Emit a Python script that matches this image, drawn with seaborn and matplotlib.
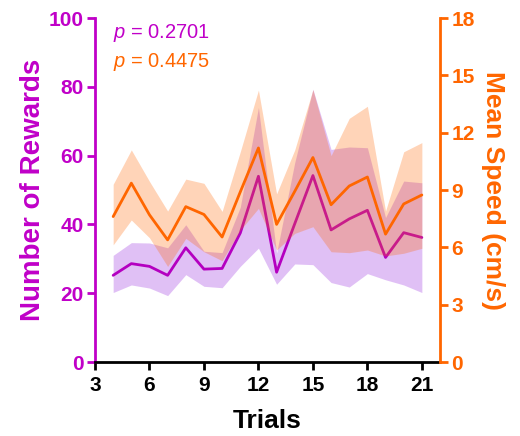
import matplotlib
matplotlib.use("Agg")
import matplotlib.pyplot as plt
import seaborn as sns
import pandas as pd

# Per-trial summaries: mean with lower/upper band edges
trials = list(range(4, 22))
rewards_mean = [25.2, 28.6, 27.8, 25.2, 33.2, 27.0, 27.2, 37.5, 54.0, 26.1,
                40.2, 54.2, 38.4, 41.6, 44.1, 30.4, 37.6, 36.2]
rewards_upper = [31.0, 34.7, 34.6, 33.2, 39.9, 32.2, 31.8, 45.0, 74.0, 31.7,
                 58.0, 79.3, 61.8, 62.5, 62.3, 42.0, 52.6, 52.1]
rewards_lower = [20.2, 22.4, 21.5, 19.3, 25.4, 22.0, 21.6, 27.8, 33.1, 22.6,
                 28.5, 28.3, 23.1, 21.8, 25.7, 23.9, 22.4, 20.2]
speed_mean = [7.61, 9.36, 7.70, 6.39, 8.13, 7.72, 6.54, 8.90, 11.20, 7.20,
              8.93, 10.70, 8.23, 9.21, 9.68, 6.69, 8.27, 8.74]
speed_upper = [9.30, 11.10, 9.45, 7.90, 9.57, 9.35, 7.88, 11.00, 14.23, 8.80,
               11.10, 14.25, 10.80, 12.75, 13.38, 7.90, 11.00, 11.48]
speed_lower = [6.13, 7.43, 6.50, 5.00, 6.47, 5.77, 5.30, 6.90, 8.04, 5.86,
               6.73, 7.08, 5.77, 5.72, 5.86, 5.55, 5.69, 5.95]

x_ticks = [3, 6, 9, 12, 15, 18, 21]
left_ticks = [0, 20, 40, 60, 80, 100]
right_ticks = [0, 3, 6, 9, 12, 15, 18]
p_rewards = "0.2701"
p_speed = "0.4475"

df = pd.DataFrame({"trial": trials, "rewards": rewards_mean, "speed": speed_mean})

sns.set_theme(style="ticks")
plt.rcParams["font.family"] = ["Liberation Sans", "DejaVu Sans"]
plt.rcParams["mathtext.fontset"] = "custom"
plt.rcParams["mathtext.it"] = "Liberation Sans:italic"
plt.rcParams["mathtext.rm"] = "Liberation Sans"

PURPLE = "#c000c8"
PURPLE_LINE = "#b400c0"
PURPLE_FILL = "#9b30e0"
ORANGE = "#ff6600"

fig = plt.figure(figsize=(5.2, 4.36), dpi=100)
ax = fig.add_axes([0.1827, 0.1697, 0.6635, 0.789])
ax2 = ax.twinx()

# rewards (band + mean) on the left axis, speed drawn over it on the right axis
ax.fill_between(trials, rewards_lower, rewards_upper, color=PURPLE_FILL,
                alpha=0.3, linewidth=0, zorder=1)
sns.lineplot(data=df, x="trial", y="rewards", ax=ax, color=PURPLE_LINE,
             linewidth=2, zorder=3)
ax2.fill_between(trials, speed_lower, speed_upper, color=ORANGE,
                 alpha=0.28, linewidth=0, zorder=1)
sns.lineplot(data=df, x="trial", y="speed", ax=ax2, color=ORANGE,
             linewidth=2, zorder=3)

ax.set_xlim(3, 22)
ax.set_ylim(0, 100)
ax2.set_ylim(0, 18)
ax.set_xticks(x_ticks)
ax.set_yticks(left_ticks)
ax2.set_yticks(right_ticks)

for a in (ax, ax2):
    a.spines["top"].set_visible(False)
    for s in a.spines.values():
        s.set_linewidth(2)
ax.spines["right"].set_visible(False)
ax.spines["left"].set_color(PURPLE)
ax.spines["bottom"].set_color("black")
ax2.spines["left"].set_visible(False)
ax2.spines["bottom"].set_visible(False)
ax2.spines["right"].set_color(ORANGE)

ax.tick_params(axis="x", colors="black", labelsize=15, width=2, length=6, pad=4)
ax.tick_params(axis="y", colors=PURPLE, labelsize=15, width=2, length=6, pad=2)
ax2.tick_params(axis="y", colors=ORANGE, labelsize=15, width=2, length=6, pad=2)
for lab in ax.get_xticklabels() + ax.get_yticklabels() + ax2.get_yticklabels():
    lab.set_fontweight("bold")

ax.set_xlabel("Trials", fontsize=19, fontweight="bold", color="black", labelpad=10)
ax.set_ylabel("Number of Rewards", fontsize=20, fontweight="bold", color=PURPLE, labelpad=2)
ax2.set_ylabel("Mean Speed (cm/s)", fontsize=19, fontweight="bold", color=ORANGE,
               rotation=270, labelpad=22)

ax.text(0.052, 0.956, "$p$ = " + p_rewards, transform=ax.transAxes, color=PURPLE,
        fontsize=14.5, va="center", ha="left")
ax.text(0.052, 0.872, "$p$ = " + p_speed, transform=ax.transAxes, color=ORANGE,
        fontsize=14.5, va="center", ha="left")

fig.savefig("out.png", dpi=100)
